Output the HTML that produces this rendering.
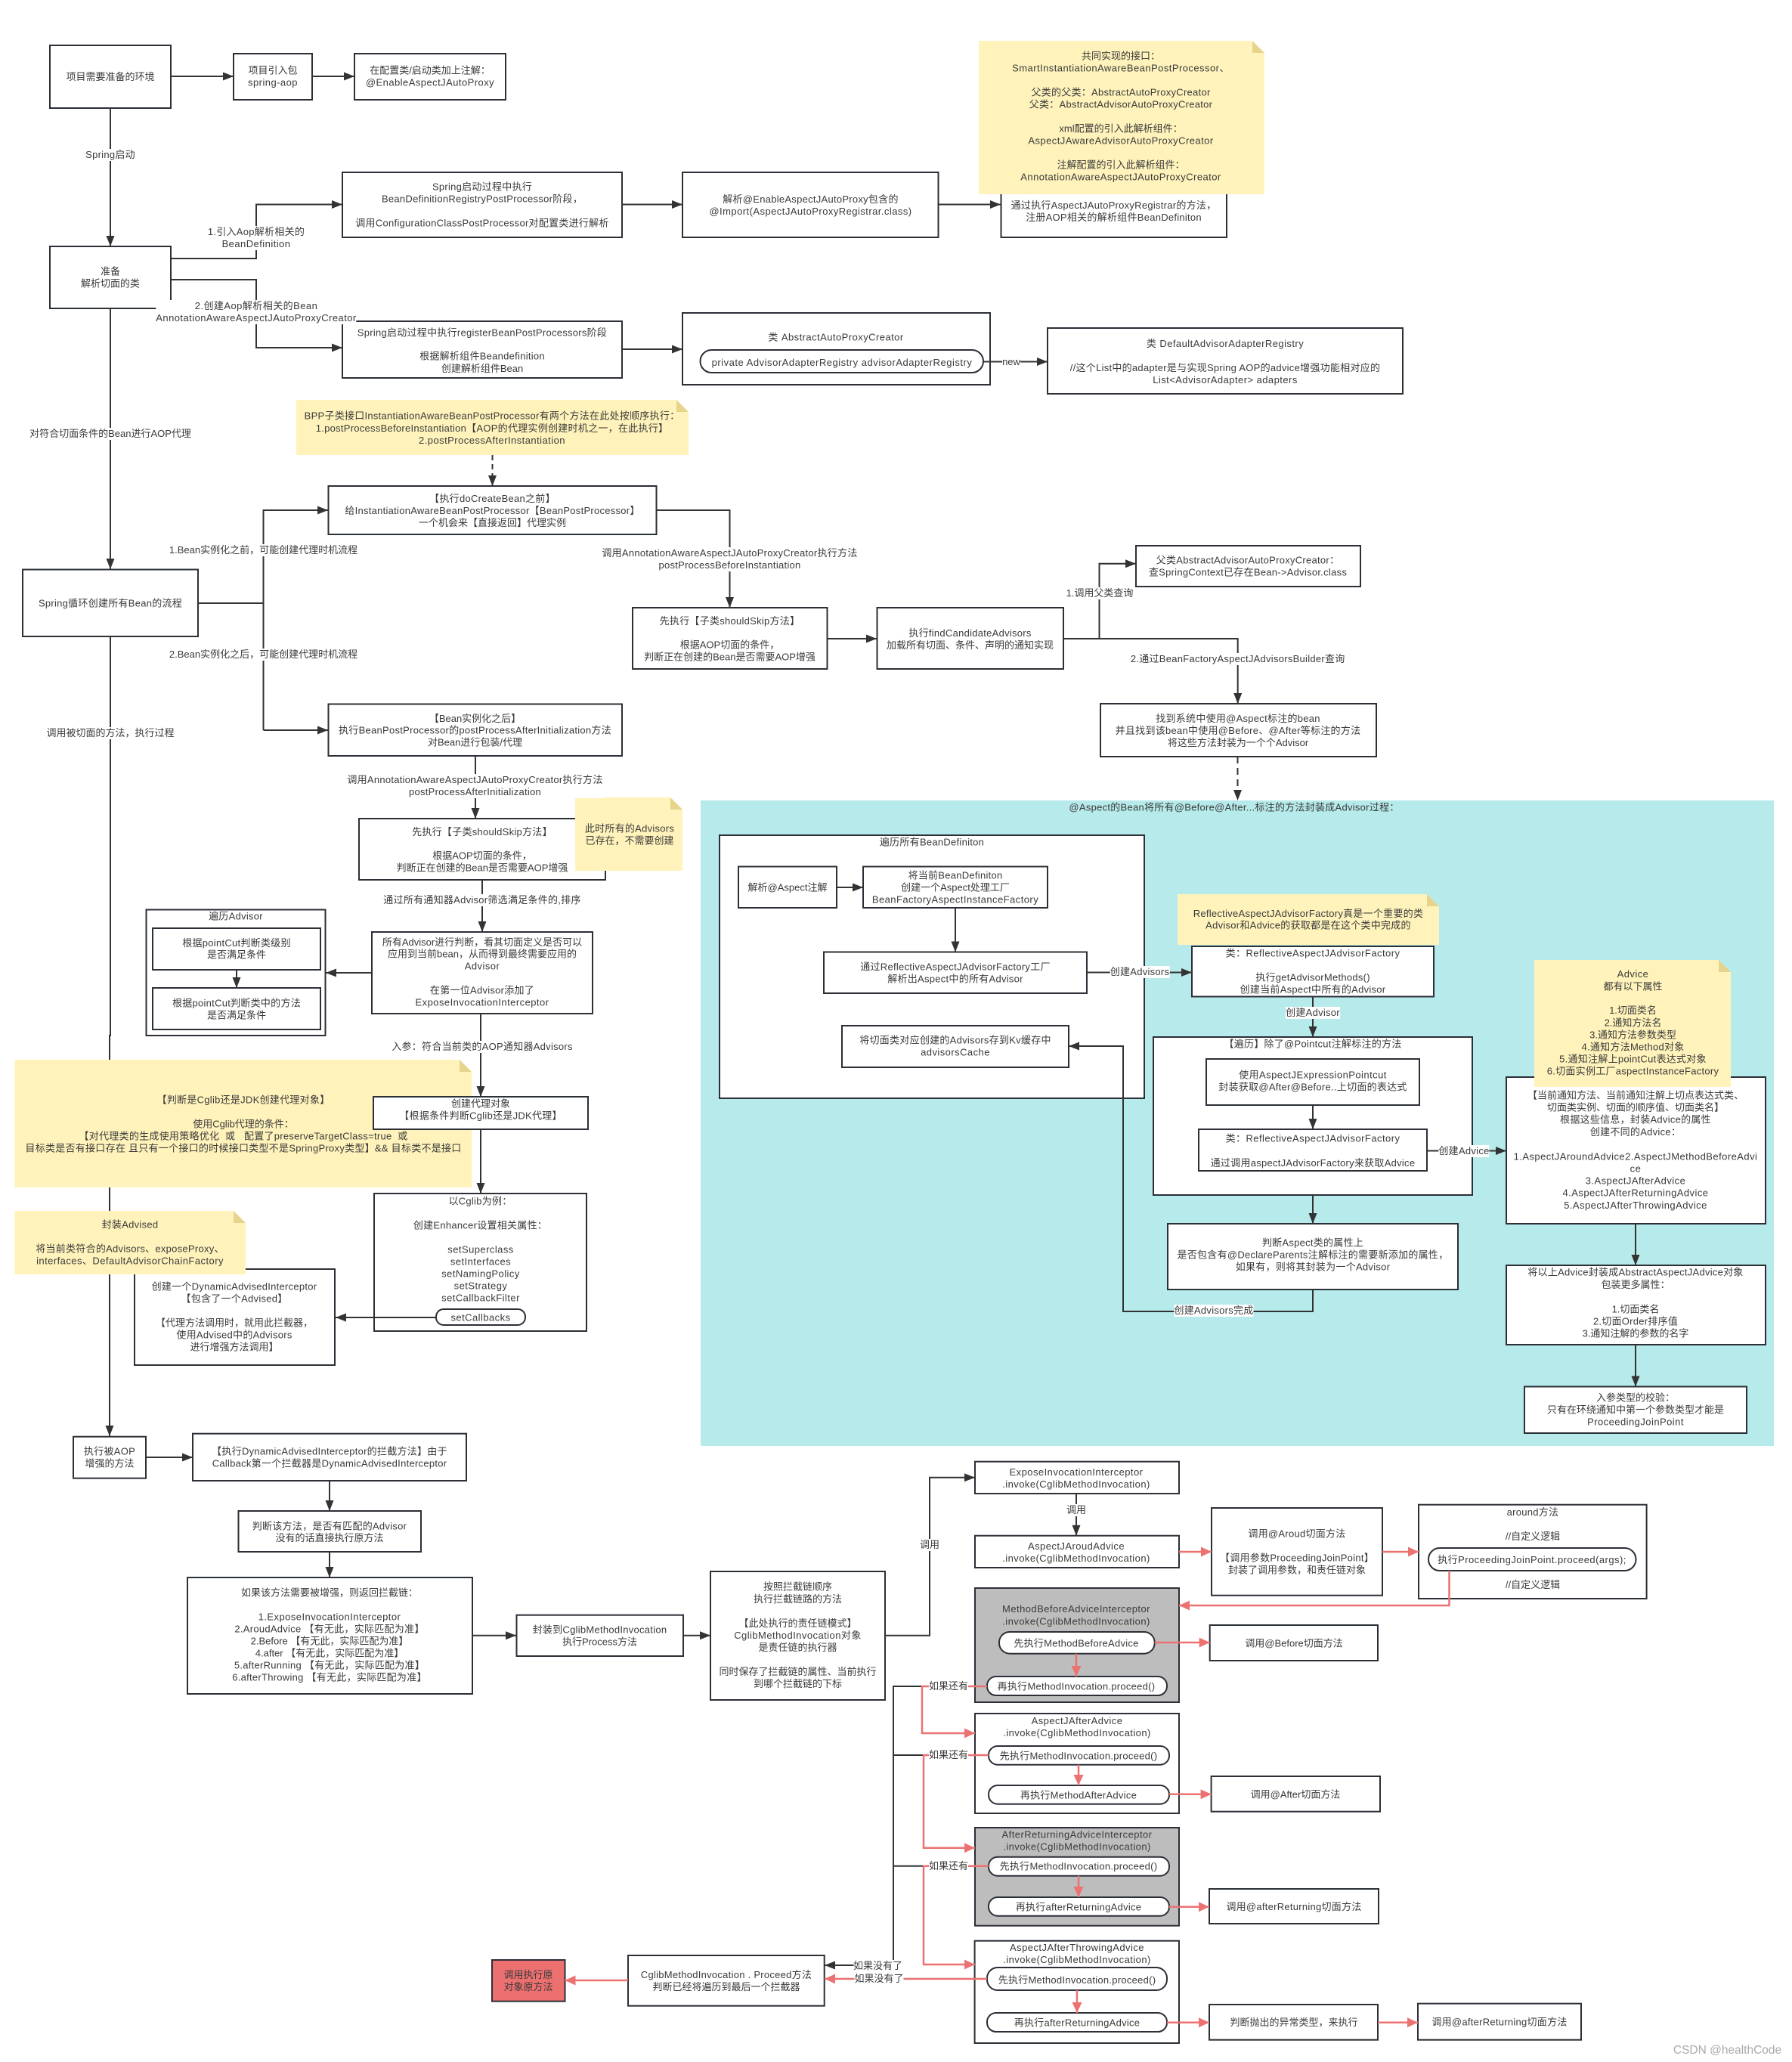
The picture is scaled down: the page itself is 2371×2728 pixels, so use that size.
<!DOCTYPE html>
<html lang="zh">
<head>
<meta charset="utf-8">
<title>Spring AOP diagram</title>
<style>
html,body{margin:0;padding:0;background:#fff;}
#page{position:relative;width:2371px;height:2728px;overflow:hidden;background:#fff;font-family:"Liberation Sans","Noto Sans CJK SC",sans-serif;font-size:13px;color:#3a3a3a;}
svg{position:absolute;left:0;top:0;}
svg text{font-family:"Liberation Sans","Noto Sans CJK SC",sans-serif;font-size:13px;fill:#3a3a3a;text-anchor:middle;dominant-baseline:central;letter-spacing:.45px;}
svg text.m,.l.m{letter-spacing:.27px;}
svg text.c,.l.c{letter-spacing:0;}
.b rect{fill:#fff;stroke:#2b2f36;stroke-width:2;}
.g{fill:#bdbdbd;stroke:#2b2f36;stroke-width:2;}
.k path{fill:none;stroke:#333;stroke-width:2;marker-end:url(#a);}
.k path.n{marker-end:none;}
.r path{fill:none;stroke:#ec7272;stroke-width:2.5;marker-end:url(#c);}
.r path.n{marker-end:none;}
.nt{fill:#fff3bb;}
.fd{fill:#e6d48c;}
.l{position:absolute;transform:translate(-50%,-50%);background:#fff;line-height:16px;white-space:nowrap;text-align:center;}
</style>
</head>
<body>
<div id="page">
<svg width="2371" height="2728" viewBox="0 0 2371 2728" xmlns="http://www.w3.org/2000/svg">
<defs>
<marker id="a" markerUnits="userSpaceOnUse" markerWidth="15" markerHeight="12" refX="14" refY="6" orient="auto"><path d="M0 0.5L14 6L0 11.5Z" fill="#333"/></marker>
<marker id="c" markerUnits="userSpaceOnUse" markerWidth="15" markerHeight="14" refX="14" refY="7" orient="auto"><path d="M0 0.5L14 7L0 13.5Z" fill="#ec7272"/></marker>
</defs>

<!-- teal panel -->
<rect x="927" y="1059" width="1420" height="854" fill="#b7eaea"/>

<!-- boxes -->
<g class="b">
<rect x="66" y="60" width="160" height="83"/>
<rect x="309" y="71" width="104" height="61"/>
<rect x="469" y="71" width="200" height="61"/>
<rect x="66" y="326" width="160" height="82"/>
<rect x="453" y="228" width="370" height="86"/>
<rect x="453" y="425" width="370" height="75"/>
<rect x="903" y="228" width="338.500" height="86"/>
<rect x="1324.500" y="228" width="298.500" height="86"/>
<rect x="903" y="414" width="407" height="95"/>
<rect x="926.500" y="463" width="374.500" height="30" rx="15" ry="15"/>
<rect x="1386" y="434" width="470" height="87"/>
<rect x="434.500" y="643" width="434" height="64"/>
<rect x="30" y="753.500" width="232" height="88.500"/>
<rect x="434.500" y="931.500" width="388.500" height="68.500"/>
<rect x="475" y="1083" width="326" height="81"/>
<rect x="492" y="1233" width="292" height="108"/>
<rect x="193.500" y="1203.500" width="237" height="166.500"/>
<rect x="202" y="1228" width="222" height="55"/>
<rect x="202" y="1307" width="222" height="55"/>
<rect x="837" y="804" width="257.500" height="81"/>
<rect x="1160.500" y="804" width="246.500" height="81"/>
<rect x="1503" y="722" width="297" height="54"/>
<rect x="1456" y="931" width="365" height="70"/>
<rect x="495" y="1579" width="281" height="182"/>
<rect x="178" y="1679" width="265" height="127"/>
</g>

<!-- teal boxes -->
<g class="b">
<rect x="952" y="1105" width="562" height="348"/>
<rect x="977" y="1146.500" width="130" height="54.500"/>
<rect x="1142" y="1146.500" width="244" height="54.500"/>
<rect x="1090" y="1259.500" width="348" height="54.500"/>
<rect x="1114" y="1357" width="300" height="55"/>
<rect x="1577" y="1252" width="320" height="66.500"/>
<rect x="1526" y="1372" width="422" height="209"/>
<rect x="1596" y="1401" width="282" height="61"/>
<rect x="1586" y="1494" width="302" height="55"/>
<rect x="1545" y="1619" width="384" height="87"/>
<rect x="1993" y="1425" width="343" height="194"/>
<rect x="1993" y="1674" width="343" height="105"/>
<rect x="2017" y="1834.500" width="294" height="61.500"/>
</g>

<!-- lower left / chain boxes -->
<g class="b">
<rect x="97" y="1900.700" width="96" height="55"/>
<rect x="255" y="1896.700" width="362" height="62.300"/>
<rect x="315.500" y="1999" width="241.500" height="54"/>
<rect x="248" y="2087" width="377" height="154"/>
<rect x="683.500" y="2136.700" width="220.500" height="54.300"/>
<rect x="940" y="2079" width="231" height="170"/>
<rect x="1290" y="1933.700" width="270" height="42.300"/>
<rect x="1290" y="2031.700" width="270" height="42.300"/>
<rect x="1603" y="1995" width="226" height="115.700"/>
<rect x="1877" y="1990.700" width="301.600" height="124.300"/>
<rect x="1890" y="2048" width="274.500" height="30" rx="15" ry="15"/>
<rect x="1600.700" y="2150" width="222.300" height="47"/>
<rect x="1290" y="2267" width="270" height="132"/>
<rect x="1602.600" y="2350" width="223.400" height="46.700"/>
<rect x="1600" y="2499" width="224" height="46"/>
<rect x="1289.600" y="2567.700" width="270.400" height="135.300"/>
<rect x="1600" y="2652" width="223" height="46.700"/>
<rect x="1876" y="2650.700" width="216" height="48"/>
<rect x="831" y="2587" width="259.700" height="66.700"/>
</g>
<rect class="g" x="1290" y="2101" width="270" height="151"/>
<rect class="g" x="1290" y="2418" width="270" height="129.700"/>
<rect x="651" y="2593" width="96.500" height="54.700" fill="#ed7070" stroke="#2b2f36" stroke-width="2"/>

<!-- main black connectors -->
<g class="k">
<path d="M226 101H309"/>
<path d="M413 101H469"/>
<path d="M146 143V326"/>
<path d="M226 342H339V270.5H453"/>
<path d="M226 370H339V460H453"/>
<path d="M823 270.5H903"/>
<path d="M1241.500 270.500H1324"/>
<path d="M823 462H903"/>
<path d="M1301 478.500H1386"/>
<path d="M146 408V753"/>
<path d="M146 842V1370H145V1900"/>
<path d="M262 798H348.500V675H434"/>
<path class="n" d="M348.500 798V966"/>
<path d="M348.500 966H434"/>
<path d="M868.500 675H965.500V804"/>
<path d="M1094.500 845H1160"/>
<path d="M1407 845H1454.500V745.700H1503"/>
<path d="M1454.500 845H1637.700V931"/>
<path d="M1637.500 1001V1059" stroke-dasharray="9 6"/>
<path d="M651.500 602V643" stroke-dasharray="7 5"/>
<path d="M629 1000V1083"/>
<path d="M638 1164V1233"/>
<path d="M492 1287H431"/>
<path d="M313 1283V1307"/>
<path d="M636 1341V1451"/>
<path d="M636 1494V1579"/>
<path d="M577 1743H444"/>
<path d="M193 1928H255"/>
<path d="M436 1959V1999"/>
<path d="M436 2053V2087"/>
<path d="M625 2163.700H683"/>
<path d="M904 2163.700H940"/>
<path d="M1171 2163.700H1230V1954.700H1290"/>
<path d="M1424 1976V2031.700"/>
<path d="M1107 1174H1142"/>
<path d="M1264 1201V1259.500"/>
<path d="M1438 1286.500H1577"/>
<path d="M1737 1318V1372"/>
<path d="M1737 1462V1494"/>
<path d="M1888 1522.500H1993"/>
<path d="M1737 1581V1619"/>
<path d="M1737 1706V1735H1486V1384H1414"/>
<path d="M2164 1619V1674"/>
<path d="M2164 1779V1834.500"/>
<path class="n" d="M1221 2231H1182V2600H1150"/>
<path d="M1150 2600H1091"/>
<path class="n" d="M1182 2322H1221"/>
<path class="n" d="M1182 2468.700H1221"/>
</g>

<!-- pills (above connectors) -->
<g class="b">
<rect x="577" y="1732" width="118" height="21" rx="10" ry="10"/>
<rect x="1322" y="2159" width="205.700" height="28.700" rx="14" ry="14"/>
<rect x="1306" y="2218" width="238" height="25" rx="12" ry="12"/>
<rect x="1308" y="2310" width="239" height="24.700" rx="12" ry="12"/>
<rect x="1308" y="2362" width="239" height="24.700" rx="12" ry="12"/>
<rect x="1308" y="2456.700" width="239" height="25" rx="12" ry="12"/>
<rect x="1308" y="2510" width="239" height="24.700" rx="12" ry="12"/>
<rect x="1306" y="2603" width="238" height="30" rx="14" ry="14"/>
<rect x="1306" y="2663" width="238" height="25" rx="12" ry="12"/>
</g>

<!-- red connectors -->
<g class="r">
<path d="M1560 2053H1603"/>
<path d="M1829 2053H1877"/>
<path d="M1917.500 2078V2124H1560" stroke-width="2"/>
<path d="M1424 2187.700V2218" stroke-width="2"/>
<path d="M1527.700 2173H1600.700"/>
<path d="M1306 2231H1220V2293H1290"/>
<path d="M1308 2322H1222V2444.700H1290"/>
<path d="M1308 2468.700H1222V2599H1290"/>
<path d="M1427 2334.700V2362" stroke-width="2"/>
<path d="M1547 2373.700H1602.600"/>
<path d="M1427 2481.700V2510" stroke-width="2"/>
<path d="M1547 2522.700H1600"/>
<path d="M1425 2633V2663" stroke-width="2"/>
<path d="M1544 2675.700H1600"/>
<path d="M1823 2675.700H1876"/>
<path d="M1306 2618H1091"/>
<path d="M831 2620H747.500"/>
</g>

<!-- yellow notes -->
<path class="nt" d="M1295 54H1657L1673 70V257H1295Z"/><path class="fd" d="M1657 54L1673 70H1657Z"/>
<path class="nt" d="M392 529H895L911 545V602H392Z"/><path class="fd" d="M895 529L911 545H895Z"/>
<path class="nt" d="M761 1055H887L903 1071V1152H761Z"/><path class="fd" d="M887 1055L903 1071H887Z"/>
<path class="nt" d="M19.500 1402H608L624 1418V1571H19.500Z"/><path class="fd" d="M608 1402L624 1418H608Z"/>
<path class="nt" d="M19.500 1602H309L325 1618V1686H19.500Z"/><path class="fd" d="M309 1602L325 1618H309Z"/>
<path class="nt" d="M1558 1183H1888L1904 1199V1250H1558Z"/><path class="fd" d="M1888 1183L1904 1199H1888Z"/>
<path class="nt" d="M2030 1270H2274L2290 1286V1438H2030Z"/><path class="fd" d="M2274 1270L2290 1286H2274Z"/>
<!-- proxy box above note -->
<rect x="494" y="1451" width="284" height="43" fill="#fff" stroke="#2b2f36" stroke-width="2"/>

<!-- box text -->
<text class="c" x="146" y="101.500">项目需要准备的环境</text>
<text class="c" x="361" y="93">项目引入包</text><text x="361" y="109">spring-aop</text>
<text class="c" x="569" y="93">在配置类/启动类加上注解：</text><text x="569" y="109">@EnableAspectJAutoProxy</text>
<text class="c" x="146" y="359">准备</text><text class="c" x="146" y="375">解析切面的类</text>
<text class="m" x="638" y="247">Spring启动过程中执行</text><text class="m" x="638" y="263">BeanDefinitionRegistryPostProcessor阶段，</text><text class="m" x="638" y="295">调用ConfigurationClassPostProcessor对配置类进行解析</text>
<text class="m" x="638" y="440">Spring启动过程中执行registerBeanPostProcessors阶段</text><text class="m" x="638" y="471">根据解析组件Beandefinition</text><text class="c" x="638" y="487.500">创建解析组件Bean</text>
<text class="m" x="1072.500" y="263.500">解析@EnableAspectJAutoProxy包含的</text><text x="1072.500" y="279.500">@Import(AspectJAutoProxyRegistrar.class)</text>
<text class="m" x="1473.500" y="271.500">通过执行AspectJAutoProxyRegistrar的方法，</text><text class="m" x="1473.500" y="287.500">注册AOP相关的解析组件BeanDefiniton</text>
<text class="c" x="1483" y="74">共同实现的接口：</text><text x="1483" y="90">SmartInstantiationAwareBeanPostProcessor、</text>
<text class="m" x="1483" y="122">父类的父类：AbstractAutoProxyCreator</text><text class="m" x="1483" y="138">父类：AbstractAdvisorAutoProxyCreator</text>
<text class="c" x="1483" y="170">xml配置的引入此解析组件：</text><text x="1483" y="186">AspectJAwareAdvisorAutoProxyCreator</text>
<text class="c" x="1483" y="218">注解配置的引入此解析组件：</text><text x="1483" y="234">AnnotationAwareAspectJAutoProxyCreator</text>
<text x="1106" y="446">类 AbstractAutoProxyCreator</text>
<text style="letter-spacing:.52px" x="1114" y="479.500">private AdvisorAdapterRegistry advisorAdapterRegistry</text>
<text x="1621" y="454.500">类 DefaultAdvisorAdapterRegistry</text><text class="m" x="1621" y="486.500">//这个List中的adapter是与实现Spring AOP的advice增强功能相对应的</text><text x="1621" y="502.500">List&lt;AdvisorAdapter&gt; adapters</text>
<text class="m" x="651" y="550">BPP子类接口InstantiationAwareBeanPostProcessor有两个方法在此处按顺序执行：</text><text class="m" x="651" y="566.500">1.postProcessBeforeInstantiation【AOP的代理实例创建时机之一，在此执行】</text><text x="651" y="582.500">2.postProcessAfterInstantiation</text>
<text class="m" x="651.500" y="659.500">【执行doCreateBean之前】</text><text class="m" x="651.500" y="675.500">给InstantiationAwareBeanPostProcessor【BeanPostProcessor】</text><text class="c" x="651.500" y="691.500">一个机会来【直接返回】代理实例</text>
<text class="m" x="146" y="798">Spring循环创建所有Bean的流程</text>
<text class="m" x="965.500" y="821.500">先执行【子类shouldSkip方法】</text><text class="c" x="965.500" y="853">根据AOP切面的条件，</text><text class="c" x="965.500" y="869">判断正在创建的Bean是否需要AOP增强</text>
<text class="m" x="1283.500" y="837.500">执行findCandidateAdvisors</text><text class="c" x="1283.500" y="853.500">加载所有切面、条件、声明的通知实现</text>
<text class="m" x="1651" y="741">父类AbstractAdvisorAutoProxyCreator：</text><text class="m" x="1651" y="757">查SpringContext已存在Bean-&gt;Advisor.class</text>
<text class="m" x="1638" y="950.500">找到系统中使用@Aspect标注的bean</text><text class="m" x="1638" y="966.500">并且找到该bean中使用@Before、@After等标注的方法</text><text class="c" x="1638" y="982.500">将这些方法封装为一个个Advisor</text>
<text class="c" x="628.500" y="950.500">【Bean实例化之后】</text><text class="m" x="628.500" y="966">执行BeanPostProcessor的postProcessAfterInitialization方法</text><text class="c" x="628.500" y="982">对Bean进行包装/代理</text>
<text class="m" x="638" y="1100.500">先执行【子类shouldSkip方法】</text><text class="c" x="638" y="1132">根据AOP切面的条件，</text><text class="c" x="638" y="1148">判断正在创建的Bean是否需要AOP增强</text>
<text class="m" x="833" y="1096">此时所有的Advisors</text><text class="c" x="833" y="1112">已存在，不需要创建</text>
<text class="m" x="312" y="1212">遍历Advisor</text>
<text class="m" x="313" y="1247.500">根据pointCut判断类级别</text><text class="c" x="313" y="1263">是否满足条件</text>
<text class="m" x="313" y="1327">根据pointCut判断类中的方法</text><text class="c" x="313" y="1343">是否满足条件</text>
<text class="c" x="638" y="1246.500">所有Advisor进行判断，看其切面定义是否可以</text><text class="c" x="638" y="1262">应用到当前bean，从而得到最终需要应用的</text><text x="638" y="1278">Advisor</text><text class="m" x="638" y="1310">在第一位Advisor添加了</text><text x="638" y="1326">ExposeInvocationInterceptor</text>
<text class="m" x="322" y="1455">【判断是Cglib还是JDK创建代理对象】</text><text class="c" x="322" y="1487">使用Cglib代理的条件：</text><text class="m" style="white-space:pre" x="322" y="1503">【对代理类的生成使用策略优化  或   配置了preserveTargetClass=true  或</text><text class="m" x="322" y="1519">目标类是否有接口存在 且只有一个接口的时候接口类型不是SpringProxy类型】&amp;&amp; 目标类不是接口</text>
<text class="c" x="636" y="1460">创建代理对象</text><text class="m" x="636" y="1476">【根据条件判断Cglib还是JDK代理】</text>
<text class="m" x="635.500" y="1589">以Cglib为例：</text><text class="m" x="635.500" y="1621">创建Enhancer设置相关属性：</text>
<text x="636" y="1653">setSuperclass</text><text x="636" y="1669">setInterfaces</text><text x="636" y="1685">setNamingPolicy</text><text x="636" y="1701">setStrategy</text><text x="636" y="1717">setCallbackFilter</text><text x="636" y="1743">setCallbacks</text>
<text class="m" x="172" y="1620">封装Advised</text><text class="m" x="172" y="1652">将当前类符合的Advisors、exposeProxy、</text><text x="172" y="1668">interfaces、DefaultAdvisorChainFactory</text>
<text class="m" x="310" y="1702">创建一个DynamicAdvisedInterceptor</text><text class="m" x="310" y="1718">【包含了一个Advised】</text><text class="c" x="310" y="1750">【代理方法调用时，就用此拦截器，</text><text class="m" x="310" y="1766">使用Advised中的Advisors</text><text class="c" x="310" y="1782">进行增强方法调用】</text>

<!-- teal text -->
<text class="m" x="1633" y="1068">@Aspect的Bean将所有@Before@After...标注的方法封装成Advisor过程：</text>
<text class="m" x="1233" y="1114">遍历所有BeanDefiniton</text>
<text class="c" x="1042" y="1174">解析@Aspect注解</text>
<text class="m" x="1264" y="1158">将当前BeanDefiniton</text><text class="c" x="1264" y="1174">创建一个Aspect处理工厂</text><text x="1264" y="1190">BeanFactoryAspectInstanceFactory</text>
<text class="m" x="1264" y="1279">通过ReflectiveAspectJAdvisorFactory工厂</text><text class="m" x="1264" y="1295">解析出Aspect中的所有Advisor</text>
<text class="m" x="1264" y="1376">将切面类对应创建的Advisors存到Kv缓存中</text><text x="1264" y="1392">advisorsCache</text>
<text class="m" x="1731" y="1208.500">ReflectiveAspectJAdvisorFactory真是一个重要的类</text><text class="m" x="1731" y="1224">Advisor和Advice的获取都是在这个类中完成的</text>
<text x="1737" y="1261">类：ReflectiveAspectJAdvisorFactory</text><text class="m" x="1737" y="1293">执行getAdvisorMethods()</text><text class="m" x="1737" y="1309">创建当前Aspect中所有的Advisor</text>
<text class="m" x="1737" y="1381">【遍历】除了@Pointcut注解标注的方法</text>
<text x="1737" y="1422">使用AspectJExpressionPointcut</text><text class="m" x="1737" y="1438">封装获取@After@Before..上切面的表达式</text>
<text x="1737" y="1506">类：ReflectiveAspectJAdvisorFactory</text><text class="m" x="1737" y="1538.500">通过调用aspectJAdvisorFactory来获取Advice</text>
<text class="m" x="1737" y="1644">判断Aspect类的属性上</text><text class="m" x="1737" y="1660">是否包含有@DeclareParents注解标注的需要新添加的属性，</text><text class="m" x="1737" y="1676">如果有，则将其封装为一个Advisor</text>
<text x="2160.500" y="1288.500">Advice</text><text class="c" x="2160.500" y="1305">都有以下属性</text><text class="c" x="2160.500" y="1336.500">1.切面类名</text><text class="c" x="2160.500" y="1353">2.通知方法名</text><text class="c" x="2160.500" y="1369">3.通知方法参数类型</text><text class="m" x="2160.500" y="1385">4.通知方法Method对象</text><text class="m" x="2160.500" y="1401">5.通知注解上pointCut表达式对象</text><text class="m" x="2160.500" y="1417">6.切面实例工厂aspectInstanceFactory</text>
<text class="c" x="2164" y="1449">【当前通知方法、当前通知注解上切点表达式类、</text><text class="c" x="2164" y="1465">切面类实例、切面的顺序值、切面类名】</text><text class="m" x="2164" y="1481">根据这些信息，封装Advice的属性</text><text class="m" x="2164" y="1497.500">创建不同的Advice：</text>
<text x="2164" y="1530">1.AspectJAroundAdvice2.AspectJMethodBeforeAdvi</text><text x="2164" y="1546">ce</text><text x="2164" y="1562">3.AspectJAfterAdvice</text><text x="2164" y="1578">4.AspectJAfterReturningAdvice</text><text x="2164" y="1594.500">5.AspectJAfterThrowingAdvice</text>
<text class="m" x="2164" y="1683">将以上Advice封装成AbstractAspectJAdvice对象</text><text class="c" x="2164" y="1699.500">包装更多属性：</text><text class="c" x="2164" y="1732">1.切面类名</text><text class="m" x="2164" y="1748">2.切面Order排序值</text><text class="c" x="2164" y="1764">3.通知注解的参数的名字</text>
<text class="c" x="2164" y="1849">入参类型的校验：</text><text class="c" x="2164" y="1865">只有在环绕通知中第一个参数类型才能是</text><text x="2164" y="1881">ProceedingJoinPoint</text>

<!-- lower text -->
<text class="m" x="145" y="1920">执行被AOP</text><text class="c" x="145" y="1936">增强的方法</text>
<text class="m" x="436" y="1920">【执行DynamicAdvisedInterceptor的拦截方法】由于</text><text class="m" x="436" y="1936">Callback第一个拦截器是DynamicAdvisedInterceptor</text>
<text class="m" x="436" y="2019">判断该方法，是否有匹配的Advisor</text><text class="c" x="436" y="2034.500">没有的话直接执行原方法</text>
<text class="c" x="436" y="2107">如果该方法需要被增强，则返回拦截链：</text><text x="436" y="2139">1.ExposeInvocationInterceptor</text><text class="m" x="436" y="2155">2.AroudAdvice 【有无此，实际匹配为准】</text><text class="c" x="436" y="2171">2.Before 【有无此，实际匹配为准】</text><text class="c" x="436" y="2187">4.after 【有无此，实际匹配为准】</text><text class="m" x="436" y="2203">5.afterRunning 【有无此，实际匹配为准】</text><text class="m" x="436" y="2219">6.afterThrowing 【有无此，实际匹配为准】</text>
<text class="m" x="793.500" y="2156">封装到CglibMethodInvocation</text><text class="c" x="793.500" y="2172">执行Process方法</text>
<text class="c" x="1055.500" y="2099">按照拦截链顺序</text><text class="c" x="1055.500" y="2115.500">执行拦截链路的方法</text><text class="c" x="1055.500" y="2147.500">【此处执行的责任链模式】</text><text x="1055.500" y="2163.500">CglibMethodInvocation对象</text><text class="c" x="1055.500" y="2179.500">是责任链的执行器</text><text class="c" x="1055.500" y="2211.500">同时保存了拦截链的属性、当前执行</text><text class="c" x="1055.500" y="2227.500">到哪个拦截链的下标</text>
<text x="1424" y="1947.500">ExposeInvocationInterceptor</text><text x="1424" y="1963.500">.invoke(CglibMethodInvocation)</text>
<text x="1424" y="2045.500">AspectJAroudAdvice</text><text x="1424" y="2061.500">.invoke(CglibMethodInvocation)</text>
<text class="m" x="1716" y="2029">调用@Aroud切面方法</text><text class="m" x="1716" y="2061">【调用参数ProceedingJoinPoint】</text><text class="c" x="1716" y="2077">封装了调用参数，和责任链对象</text>
<text class="m" x="2028" y="2000.500">around方法</text><text class="c" x="2028" y="2032.500">//自定义逻辑</text><text x="2027" y="2063.500">执行ProceedingJoinPoint.proceed(args);</text><text class="c" x="2028" y="2096.500">//自定义逻辑</text>
<text x="1424" y="2128.500">MethodBeforeAdviceInterceptor</text><text x="1424" y="2145">.invoke(CglibMethodInvocation)</text>
<text class="m" x="1424" y="2174">先执行MethodBeforeAdvice</text><text class="m" x="1424" y="2231">再执行MethodInvocation.proceed()</text>
<text class="c" x="1712" y="2174">调用@Before切面方法</text>
<text x="1425" y="2276.500">AspectJAfterAdvice</text><text x="1425" y="2292.500">.invoke(CglibMethodInvocation)</text>
<text class="m" x="1427" y="2323">先执行MethodInvocation.proceed()</text><text class="m" x="1427" y="2375">再执行MethodAfterAdvice</text>
<text class="c" x="1714" y="2374">调用@After切面方法</text>
<text x="1425" y="2427">AfterReturningAdviceInterceptor</text><text x="1425" y="2443">.invoke(CglibMethodInvocation)</text>
<text class="m" x="1427" y="2469">先执行MethodInvocation.proceed()</text><text class="m" x="1427" y="2523">再执行afterReturningAdvice</text>
<text class="m" x="1712" y="2522.500">调用@afterReturning切面方法</text>
<text x="1425" y="2576.500">AspectJAfterThrowingAdvice</text><text x="1425" y="2592.500">.invoke(CglibMethodInvocation)</text>
<text class="m" x="1425" y="2619.500">先执行MethodInvocation.proceed()</text><text class="m" x="1425" y="2676">再执行afterReturningAdvice</text>
<text class="c" x="1712" y="2675.500">判断抛出的异常类型，来执行</text>
<text class="m" x="1984" y="2675">调用@afterReturning切面方法</text>
<text class="m" x="961" y="2612.500">CglibMethodInvocation . Proceed方法</text><text class="c" x="961" y="2628.500">判断已经将遍历到最后一个拦截器</text>
<text class="c" x="699" y="2612.500">调用执行原</text><text class="c" x="699" y="2628.500">对象原方法</text>
<text x="2285.500" y="2712.500" style="font-size:15.500px;fill:#aaaaaa;letter-spacing:0">CSDN @healthCode</text>
</svg>

<!-- connector labels -->
<div class="l m" style="left:146px;top:205px">Spring启动</div>
<div class="l m" style="left:339px;top:315px">1.引入Aop解析相关的<br><span style="letter-spacing:.45px">BeanDefinition</span></div>
<div class="l" style="left:339px;top:413px;letter-spacing:.45px">2.创建Aop解析相关的Bean<br>AnnotationAwareAspectJAutoProxyCreator</div>
<div class="l c" style="left:146px;top:574px">对符合切面条件的Bean进行AOP代理</div>
<div class="l" style="left:1338px;top:479px">new</div>
<div class="l c" style="left:348.500px;top:728px">1.Bean实例化之前，可能创建代理时机流程</div>
<div class="l c" style="left:348.500px;top:866px">2.Bean实例化之后，可能创建代理时机流程</div>
<div class="l c" style="left:146px;top:970px">调用被切面的方法，执行过程</div>
<div class="l m" style="left:965.500px;top:739.500px">调用AnnotationAwareAspectJAutoProxyCreator执行方法<br>postProcessBeforeInstantiation</div>
<div class="l c" style="left:1455px;top:785px">1.调用父类查询</div>
<div class="l m" style="left:1637.700px;top:872px">2.通过BeanFactoryAspectJAdvisorsBuilder查询</div>
<div class="l m" style="left:628.500px;top:1040px">调用AnnotationAwareAspectJAutoProxyCreator执行方法<br>postProcessAfterInitialization</div>
<div class="l m" style="left:638px;top:1191px">通过所有通知器Advisor筛选满足条件的,排序</div>
<div class="l m" style="left:638px;top:1385px">入参：符合当前类的AOP通知器Advisors</div>
<div class="l m" style="left:1508px;top:1286px">创建Advisors</div>
<div class="l m" style="left:1737px;top:1340px">创建Advisor</div>
<div class="l m" style="left:1937px;top:1522.500px">创建Advice</div>
<div class="l m" style="left:1606px;top:1734px">创建Advisors完成</div>
<div class="l c" style="left:1230px;top:2044px">调用</div>
<div class="l c" style="left:1424px;top:1998px">调用</div>
<div class="l c" style="left:1255px;top:2231px">如果还有</div>
<div class="l c" style="left:1255px;top:2322px">如果还有</div>
<div class="l c" style="left:1255px;top:2468.700px">如果还有</div>
<div class="l c" style="left:1161.500px;top:2600.500px">如果没有了</div>
<div class="l c" style="left:1163px;top:2618px">如果没有了</div>
</div>
</body>
</html>
